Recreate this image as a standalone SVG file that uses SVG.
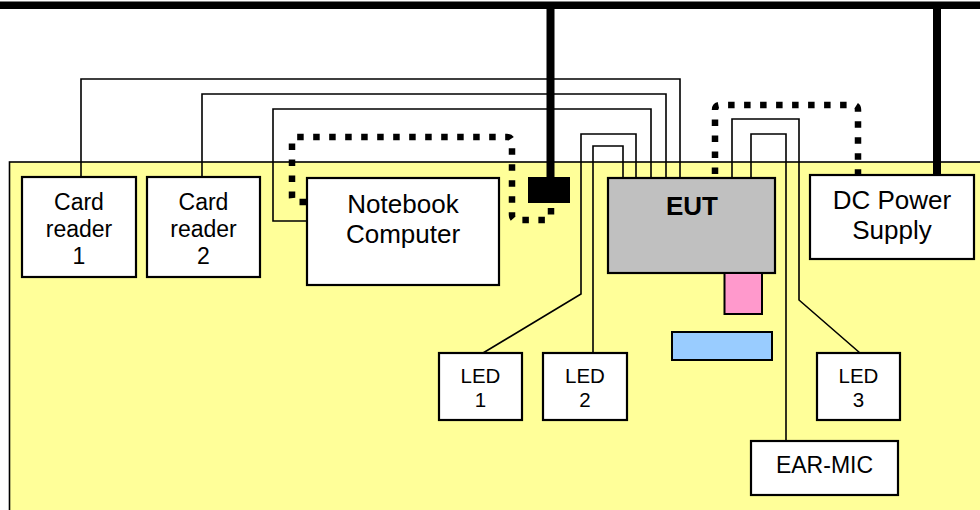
<svg xmlns="http://www.w3.org/2000/svg" width="980" height="510" viewBox="0 0 980 510">
<style>
.box{fill:#fff;stroke:#000;stroke-width:2.2}
.t{font-family:"Liberation Sans",Arial,sans-serif;fill:#000;text-anchor:middle}
.w{fill:none;stroke:#000;stroke-width:1.6}
.dot{fill:none;stroke:#000;stroke-width:6.5;stroke-dasharray:6.5 9.5}
.thick{fill:none;stroke:#000;stroke-width:8}
</style>
<rect x="0" y="0" width="980" height="510" fill="#fff"/>
<rect id="table" x="9.5" y="162" width="980" height="360" fill="#FFFF99" stroke="#000" stroke-width="1.6"/>
<g id="connectors">
<rect x="0" y="1.5" width="980" height="7.5" fill="#000"/>
<line class="thick" x1="550.5" y1="5" x2="550.5" y2="180"/>
<line class="thick" x1="937" y1="5" x2="937" y2="178"/>
<polyline class="w" points="81,177 81,79 680,79 680,178"/>
<polyline class="w" points="202,177 202,94 666,94 666,178"/>
<polyline class="w" points="307,221 273,221 273,109 651,109 651,178"/>
<polyline class="w" points="483,353 581,294 581,134 636,134 636,178"/>
<polyline class="w" points="593,353 593,146 623,146 623,178"/>
<polyline class="w" points="860,353 799,300 799,119 732,119 732,178"/>
<polyline class="w" points="786,441 786,134 751,134 751,178"/>
<path class="dot" d="M306,202 H297 Q292,202 292,197 V142 Q292,137 297,137 H507 Q512,137 512,142 V215 Q512,220 517,220 H546 Q551,220 551,215 V203"/>
<path class="dot" d="M715,174 V110 Q715,105 720,105 H853 Q858,105 858,110 V174"/>
</g>
<g id="card-reader-1">
<rect class="box" x="22" y="177" width="114" height="100"/>
<text class="t" font-size="23" x="79" y="210">Card</text>
<text class="t" font-size="23" x="79" y="237">reader</text>
<text class="t" font-size="23" x="79" y="264">1</text>
</g>
<g id="card-reader-2">
<rect class="box" x="147" y="177" width="113" height="100"/>
<text class="t" font-size="23" x="203.5" y="210">Card</text>
<text class="t" font-size="23" x="203.5" y="237">reader</text>
<text class="t" font-size="23" x="203.5" y="264">2</text>
</g>
<g id="notebook">
<rect class="box" x="307" y="178" width="192" height="107"/>
<text class="t" font-size="26" x="403" y="213">Notebook</text>
<text class="t" font-size="26" x="403" y="243">Computer</text>
</g>
<g id="hub">
<rect x="528" y="177" width="42" height="26" fill="#000"/>
</g>
<g id="eut">
<rect x="608" y="178" width="167" height="95" fill="#C0C0C0" stroke="#000" stroke-width="2.2"/>
<text class="t" font-size="26" font-weight="bold" x="692" y="215">EUT</text>
</g>
<g id="pink-part">
<rect x="724.5" y="273" width="37.5" height="41" fill="#FF99CC" stroke="#000" stroke-width="2"/>
</g>
<g id="blue-part">
<rect x="672" y="332" width="100" height="28" fill="#99CCFF" stroke="#000" stroke-width="2"/>
</g>
<g id="dc-power">
<rect class="box" x="810" y="175" width="164" height="84"/>
<text class="t" font-size="26" x="892" y="209">DC Power</text>
<text class="t" font-size="26" x="892" y="239">Supply</text>
</g>
<g id="led-1">
<rect class="box" x="439" y="353" width="83" height="67"/>
<text class="t" font-size="20.5" x="480.5" y="383">LED</text>
<text class="t" font-size="20.5" x="480.5" y="407">1</text>
</g>
<g id="led-2">
<rect class="box" x="543" y="353" width="84" height="67"/>
<text class="t" font-size="20.5" x="585" y="383">LED</text>
<text class="t" font-size="20.5" x="585" y="407">2</text>
</g>
<g id="led-3">
<rect class="box" x="817" y="353" width="83" height="67"/>
<text class="t" font-size="20.5" x="858.5" y="383">LED</text>
<text class="t" font-size="20.5" x="858.5" y="407">3</text>
</g>
<g id="ear-mic">
<rect class="box" x="751" y="441" width="147" height="54"/>
<text class="t" font-size="23" x="824.5" y="473">EAR-MIC</text>
</g>
</svg>
